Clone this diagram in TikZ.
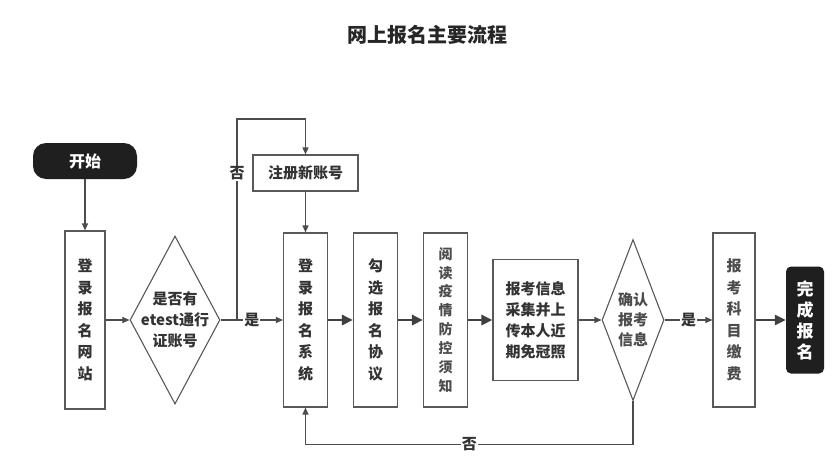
\documentclass[tikz,border=0pt]{standalone}
\usepackage{fontspec}
\newfontfamily\cjk{Noto Sans CJK SC}
\usetikzlibrary{arrows.meta,shapes.geometric}

\begin{document}
\begin{tikzpicture}[x=1pt,y=-1pt,
    every node/.style={font=\cjk},
    box/.style={draw=black!65,line width=1.1pt,fill=white,text=black!80,inner sep=0pt,align=center,
        font=\cjk\bfseries\fontsize{15}{21.5}\selectfont},
    col/.style={box,minimum width=44pt,minimum height=174pt},
    light/.style={text=black!70,font=\cjk\bfseries\fontsize{15}{21.5}\selectfont},
    dia/.style={diamond,draw=black!65,line width=1.1pt,fill=white,inner sep=0pt},
    diatext/.style={text=black!80,align=center,inner sep=0pt,font=\cjk\bfseries\fontsize{15}{21}\selectfont},
    term/.style={fill=black!88,text=white,inner sep=0pt,align=center,
        font=\cjk\bfseries\fontsize{16}{21.5}\selectfont},
    lbl/.style={fill=white,inner sep=1pt,text=black!80,font=\cjk\bfseries\fontsize{15}{15}\selectfont},
    thin/.style={draw=black!70,line width=1.1pt,-{Stealth[length=7pt,width=6pt,inset=0pt]}},
    thk/.style={draw=black!75,line width=2.6pt,-{Stealth[length=11pt,width=10pt,inset=0pt]}}]
  \fill[white] (0,0) rectangle (838,461);
  \useasboundingbox (0,0) rectangle (838,461);

  \node[text=black!85,font=\cjk\bfseries\fontsize{20}{20}\selectfont] (title) at (427,35) {网上报名主要流程};

  % nodes
  \node[term,rounded corners=13pt,minimum width=104pt,minimum height=36pt] (start) at (85,161) {开始};
  \node[box,minimum width=40pt,minimum height=178pt] (web) at (85,320) {登\\录\\报\\名\\网\\站};
  \node[dia,minimum width=90pt,minimum height=168pt] (acct) at (175,320) {};
  \node[diatext] (accttext) at (acct) {是否有\\etest通行\\证账号};
  \node[box,minimum width=105pt,minimum height=36pt] (reg) at (305.5,173) {注册新账号};
  \node[col] (sys) at (305.5,320) {登\\录\\报\\名\\系\\统};
  \node[col] (agree) at (375.5,320) {勾\\选\\报\\名\\协\\议};
  \node[col,light,font=\cjk\bfseries\fontsize{14}{18.9}\selectfont] (read) at (445.5,320) {阅\\读\\疫\\情\\防\\控\\须\\知};
  \node[box,minimum width=85pt,minimum height=121pt,font=\cjk\bfseries\fontsize{15}{21}\selectfont] (info) at (535.5,320) {报考信息\\采集并上\\传本人近\\期免冠照};
  \node[dia,minimum width=62pt,minimum height=161pt] (conf) at (633,320) {};
  \node[diatext,light,font=\cjk\bfseries\fontsize{15}{20}\selectfont] (conftext) at (conf) {确认\\报考\\信息};
  \node[col,light,minimum width=42pt] (pay) at (734,320) {报\\考\\科\\目\\缴\\费};
  \node[term,rounded corners=5pt,minimum width=38pt,minimum height=107pt,font=\cjk\bfseries\fontsize{17}{21}\selectfont] (done) at (805,320) {完\\成\\报\\名};

  % connectors
  \coordinate (fork) at (237,320);
  \draw[thin] (start) -- (web);
  \draw[thin] (web) -- (acct);
  \draw[thin] (acct) -- node[lbl] {是} (sys);
  \draw[thin] (fork) -- node[lbl,pos=0.73] {否} ++(0,-201) -| (reg.north);
  \draw[thin] (reg) -- (sys);
  \foreach \a/\b in {sys/agree,agree/read,read/info,pay/done}
    \draw[thk] (\a) -- (\b);
  \draw[thin] (info) -- (conf);
  \draw[thin] (conf) -- node[lbl] {是} (pay);
  \draw[thin] (conf.south) -- ++(0,43) -| node[lbl,pos=0.25] {否} (sys.south);
\end{tikzpicture}
\end{document}
